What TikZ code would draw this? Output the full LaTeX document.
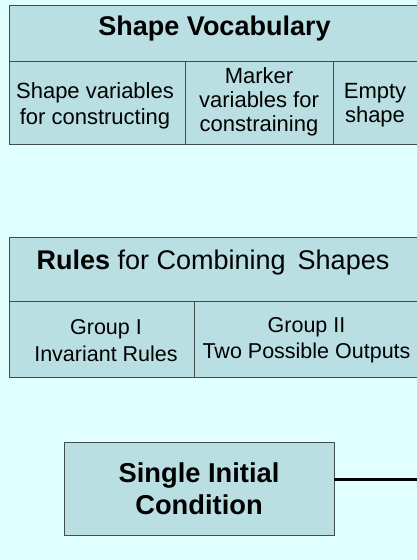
\documentclass[tikz,border=0pt]{standalone}
\usepackage{fontspec}
\setmainfont{Liberation Sans}
\definecolor{pagebg}{HTML}{E0FFFF}
\definecolor{cellfill}{HTML}{B9DFE3}
\definecolor{cellline}{HTML}{444C4C}
\begin{document}
\begin{tikzpicture}[x=1pt,y=-1pt,
  cell/.style={draw=cellline, line width=0.9pt, fill=cellfill, anchor=north west,
    inner sep=0pt, outer sep=0pt, align=center, text=black},
  head/.style={align=center, inner sep=0pt, font=\fontsize{27}{31}\selectfont},
  body/.style={align=center, inner sep=0pt, font=\fontsize{22}{#1}\selectfont},
  body/.default=25]
\useasboundingbox (0,0) rectangle (417,560);
\fill[pagebg] (0,0) rectangle (417,560);
\clip (0,0) rectangle (417,560);

% vocabulary table
\node[cell, minimum width=411, minimum height=56] (voc) at (9,5) {};
\node[cell, minimum width=176, minimum height=83] (svar) at (9,61) {};
\node[cell, minimum width=148, minimum height=83] (mvar) at (185,61) {};
\node[cell, minimum width=87, minimum height=83] (empty) at (333,61) {};
\node[head] (vocT) at (214.5,29) {\textbf{Shape Vocabulary}};
\node[body=26] (svarT) at (95,105.5) {Shape variables\\for constructing};
\node[body=24.3] (mvarT) at (259,101.8) {Marker\\variables for\\constraining};
\node[body=24] (emptyT) at (375,105.5) {Empty\\shape};

% rules table
\node[cell, minimum width=411, minimum height=64] (rules) at (9,237) {};
\node[cell, minimum width=185, minimum height=76] (grpI) at (9,301) {};
\node[cell, minimum width=226, minimum height=76] (grpII) at (194,301) {};
\node[head] (rulesT) at (213,262.3) {\textbf{Rules} for Combining\ \,Shapes};
\node[body=26.3, font=\fontsize{21.5}{26.3}\selectfont] (grpIT) at (106,340.5)
  {Group I\\Invariant Rules};
\node[body=26.3, font=\fontsize{21.5}{26.3}\selectfont] (grpIIT) at (306.5,340.5)
  {Group II\\Two Possible Outputs};

% initial condition
\node[cell, anchor=center, minimum width=270, minimum height=93,
  font=\fontsize{27.3}{32}\selectfont\bfseries] (init) at (199,488.5)
  {Single Initial\\Condition};
\coordinate (exit) at (420,479);
\draw[line width=3pt, black] (init.east |- exit) -- (exit);
\end{tikzpicture}
\end{document}
